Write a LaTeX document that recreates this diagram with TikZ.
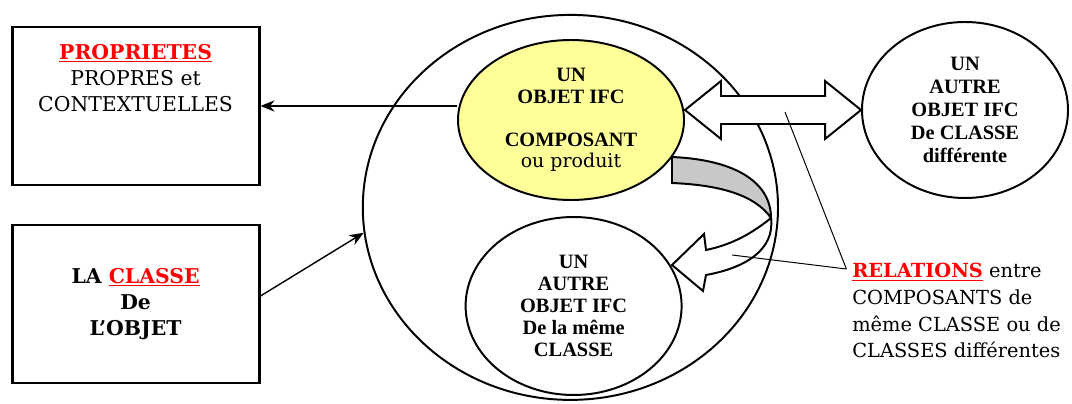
\documentclass[tikz,border=0pt]{standalone}
\usepackage{fontspec}
\setmainfont{DejaVu Serif}
\newfontfamily\tnrfont{Liberation Serif}
\usepackage{tikz}
\usetikzlibrary{arrows.meta,shapes.geometric,calc}
\definecolor{objyellow}{RGB}{255,255,153}
\definecolor{bandgray}{RGB}{200,200,200}
\newcommand{\redul}[1]{\textcolor{red}{\underline{#1}}}
\tikzstyle{objbox} = [draw,line width=2pt,minimum width=6.175cm,minimum height=3.95cm,inner sep=0pt]
\tikzstyle{blob} = [draw,ellipse,line width=1.4pt,inner sep=0pt,align=center,font=\tnrfont\bfseries\fontsize{14.5}{15.5}\selectfont]
\tikzstyle{link} = [line width=1pt,-{Stealth[length=10pt,width=8pt]}]
\tikzstyle{pointer} = [line width=0.7pt]
\tikzstyle{hollow} = [draw,line width=1.4pt,fill=white,line join=miter]

\begin{document}
\begin{tikzpicture}
	\useasboundingbox (0,0) rectangle (26.8,10.075);
	% boxes on the left
	\node[objbox] (prop) at (3.39,7.425) {};
	\node[anchor=north,align=center,inner sep=0pt,font=\fontsize{14.5}{18.5}\selectfont] (proptext) at ([yshift=-0.45cm]prop.north) {\textbf{\redul{PROPRIETES}}\\PROPRES et\\CONTEXTUELLES};
	\node[objbox,align=center,font=\bfseries\fontsize{14.5}{18.5}\selectfont] (classe) at (3.39,2.475) {LA \redul{CLASSE}\\De\\L'OBJET};
	% the class and its objects
	\node[draw,ellipse,line width=1.4pt,minimum width=10.38cm,minimum height=9.625cm] (big) at (14.26,4.89) {};
	\node[blob,fill=objyellow,minimum width=5.65cm,minimum height=4cm] (obj) at (14.275,7.075) {UN\\OBJET IFC\\[15pt]COMPOSANT\\{\mdseries\rmfamily\fontsize{13.5}{15.5}\selectfont ou produit}};
	\node[blob,minimum width=5.4cm,minimum height=4.45cm] (same) at (14.34,2.425) {UN\\AUTRE\\OBJET IFC\\De la même\\CLASSE};
	\node[blob,minimum width=5.15cm,minimum height=4.4cm,font=\tnrfont\bfseries\fontsize{14.5}{16.5}\selectfont] (other) at (24.125,7.325) {UN\\AUTRE\\OBJET IFC\\De CLASSE\\différente};
	% double arrow
	\coordinate (dl) at (obj.east |- other.west);
	\coordinate (dr) at (other.west);
	\draw[hollow] (dl) -- ++(0.9,0.725) -- ++(0,-0.375) -- ($(dr)+(-0.9,0.35)$) -- ++(0,0.375) -- (dr)
		-- ++(-0.9,-0.725) -- ++(0,0.375) -- ($(dl)+(0.9,-0.35)$) -- ++(0,-0.375) -- cycle;
	% curved arrow
	\draw[hollow,fill=bandgray] (16.8,6.15) .. controls (18.5,6.075) and (19.275,5.45) .. (19.275,4.625)
		.. controls (18.875,5.2) and (18.0,5.45) .. (16.8,5.5) -- cycle;
	\draw[hollow] (19.275,4.625) .. controls (18.75,4.2) and (18.25,3.95) .. (17.65,3.825) -- (17.6,4.225)
		-- (16.8,3.45) -- (17.575,2.8) -- (17.65,3.2) .. controls (18.625,3.375) and (19.375,3.825) .. (19.275,4.625) -- cycle;
	% connectors
	\draw[link] (obj.west |- prop.east) -- (prop.east);
	\draw[link] ([yshift=0.2cm]classe.east) -- (big.187);
	% relations
	\node[anchor=north west,align=left,inner sep=0pt,font=\fontsize{13.8}{19}\selectfont] (rel) at (21.3,3.5) {\textbf{\redul{RELATIONS}} entre\\COMPOSANTS de\\même CLASSE ou de\\CLASSES différentes};
	\coordinate (relpt) at ([xshift=-4pt,yshift=-0.15cm]rel.north west);
	\coordinate (r1) at (19.625,7.275);
	\coordinate (r2) at (18.3,3.7);
	\draw[pointer] (relpt) -- (r1);
	\draw[pointer] (relpt) -- (r2);
\end{tikzpicture}
\end{document}
